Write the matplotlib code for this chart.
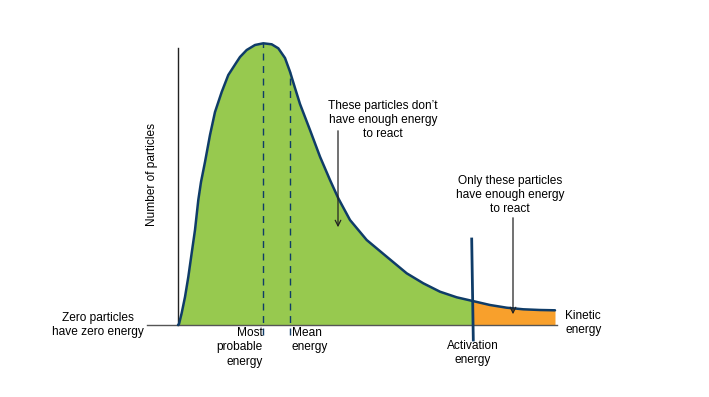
import numpy as np
from matplotlib import pyplot as plt

# energy (x) and number of particles (y)
energy = [0, 1, 3.7, 7, 10.3, 13.7, 17, 20.3, 23, 27, 32, 37, 43.7, 50.3, 58.7,
          62, 68.7, 77, 85.3, 93.7, 100.3, 107, 112, 117, 122, 132, 142, 152,
          160.3, 172, 188.7, 208.7, 228.7, 245.3, 262, 278.7, 294.7, 312,
          328.7, 345.3, 362, 377]
particles = [0, 1, 12, 28, 48, 72, 95, 125, 143, 163, 190, 213, 233, 250, 263,
             268, 275, 280, 281.7, 280.7, 276.7, 267, 253.3, 237, 221, 195,
             168.3, 145, 126.7, 105, 85, 68.3, 51.7, 41.7, 33.3, 27.7, 24, 20,
             17.3, 15.7, 15, 14.7]

most_probable = 85
mean_energy = 112
activation = 294.5

green = "#97c94f"
orange = "#f8a02c"
navy = "#0f3c68"

plt.rcParams['font.family'] = ['Liberation Sans', 'DejaVu Sans']
fs = 8.6

fig = plt.figure(figsize=(7.09, 3.97), dpi=100)
ax = fig.add_axes([0, 0, 1, 1])
ax.set_xlim(-178, 709 - 178)
ax.set_ylim(325 - 397, 325)
ax.axis("off")

e = np.array(energy, dtype=float)
p = np.array(particles, dtype=float)

# split the area at the activation energy
p_act = np.interp(activation, e, p)
left = e < activation
ax.fill_between(np.append(e[left], activation), np.append(p[left], p_act), 0,
                color=green, lw=0)
right = e > activation
ax.fill_between(np.insert(e[right], 0, activation), np.insert(p[right], 0, p_act), 0,
                color=orange, lw=0)

# axis lines
ax.plot([-31, 379], [0, 0], color="#555555", lw=1)
ax.plot([0, 0], [0, 277], color="#222222", lw=1)

ax.plot(e, p, color=navy, lw=1.8, solid_joinstyle="round", solid_capstyle="round")

# dashed markers
ax.plot([most_probable, most_probable], [-10, np.interp(most_probable, e, p)],
        color=navy, lw=1, ls=(0, (5, 4)))
ax.plot([mean_energy, mean_energy], [-10, np.interp(mean_energy, e, p)],
        color=navy, lw=1, ls=(0, (5, 4)))

# activation energy line
ax.plot([activation - 0.8, activation + 0.8], [86, -15], color=navy, lw=2)

ax.text(-26, 150, "Number of particles", rotation=90, ha="center", va="center", fontsize=fs)
ax.text(-80, 0, "Zero particles\nhave zero energy", ha="center", va="center",
        fontsize=fs, linespacing=1.25)
ax.text(most_probable, -2, "Most\nprobable\nenergy", ha="right", va="top",
        fontsize=fs, linespacing=1.25)
ax.text(mean_energy + 2, -2, "Mean\nenergy", ha="left", va="top",
        fontsize=fs, linespacing=1.25)
ax.text(activation, -15, "Activation\nenergy", ha="center", va="top",
        fontsize=fs, linespacing=1.25)
ax.text(387, 2, "Kinetic\nenergy", ha="left", va="center",
        fontsize=fs, linespacing=1.25)
ax.text(205, 205, "These particles don\u2019t\nhave enough energy\nto react",
        ha="center", va="center", fontsize=fs, linespacing=1.25)
ax.text(332, 130, "Only these particles\nhave enough energy\nto react",
        ha="center", va="center", fontsize=fs, linespacing=1.25)

ax.annotate("", xy=(160, 95), xytext=(160, 197),
            arrowprops=dict(arrowstyle="->", color="#222222", lw=0.9))
ax.annotate("", xy=(335, 8), xytext=(335, 110),
            arrowprops=dict(arrowstyle="->", color="#222222", lw=0.9))

fig.savefig("out.png", dpi=100)
